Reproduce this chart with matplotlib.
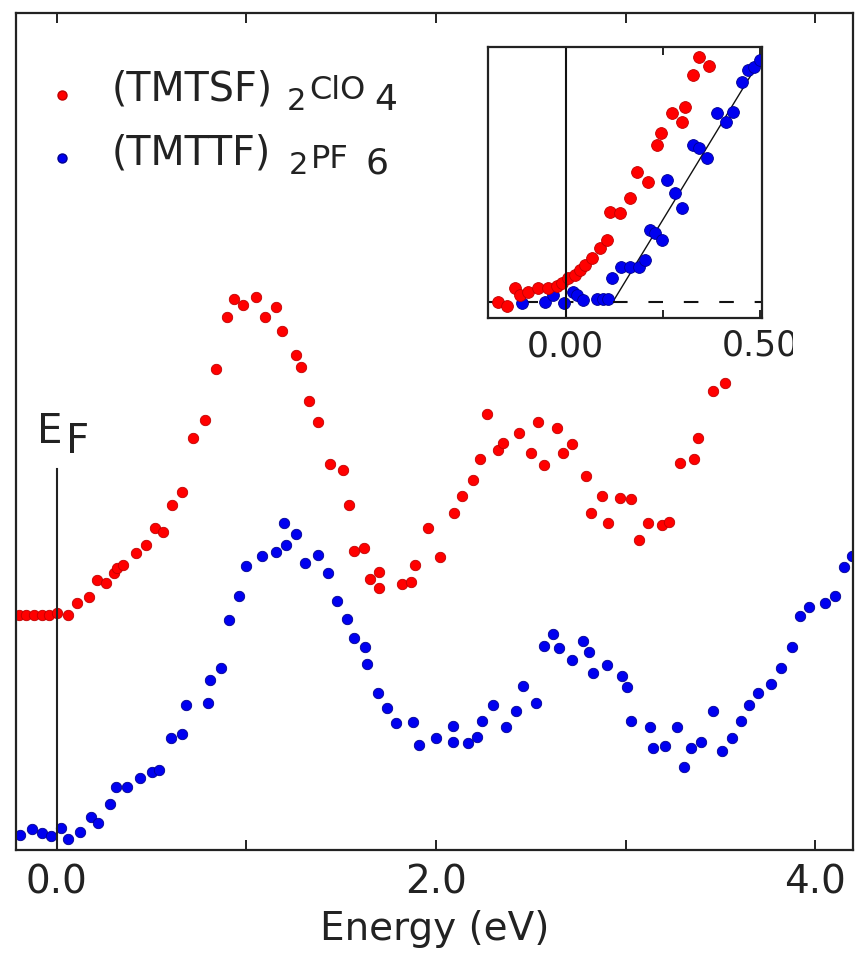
import numpy as np
import matplotlib
matplotlib.use('Agg')
import matplotlib.pyplot as plt
from matplotlib.lines import Line2D
from matplotlib.transforms import Bbox, TransformedBbox

# photoemission spectra, energy in eV, intensity in arbitrary units
tmtsf_e = [-0.20, -0.16, -0.12, -0.08, -0.04, 0.00, 0.06, 0.105, 0.17, 0.21, 0.26, 0.30,
           0.32, 0.35, 0.42, 0.47, 0.52, 0.56, 0.61, 0.66, 0.72, 0.78, 0.84, 0.90, 0.935,
           0.98, 1.05, 1.10, 1.155, 1.19, 1.26, 1.29, 1.33, 1.38, 1.44, 1.51, 1.54, 1.57,
           1.62, 1.65, 1.70, 1.70, 1.82, 1.87, 1.89, 1.96, 2.02, 2.095, 2.14, 2.195, 2.23,
           2.27, 2.33, 2.355, 2.44, 2.50, 2.54, 2.57, 2.64, 2.67, 2.72, 2.79, 2.82, 2.875,
           2.91, 2.97, 3.03, 3.07, 3.12, 3.19, 3.23, 3.29, 3.36, 3.38, 3.46, 3.525]
tmtsf_i = [235, 235, 235, 235, 235, 237, 235, 247, 253, 270, 267, 277,
           282, 285, 297, 305, 322, 318, 345, 358, 412, 430, 481, 533, 551,
           545, 553, 533, 543, 519, 495, 483, 449, 428, 386, 380, 345, 299,
           302, 271, 278, 262, 266, 268, 285, 322, 293, 337, 354, 370, 391,
           436, 400, 407, 417, 397, 428, 385, 422, 397, 406, 374, 337, 354,
           327, 352, 351, 310, 327, 325, 328, 387, 391, 412, 459, 467]

tmttf_e = [-0.195, -0.13, -0.08, -0.03, 0.02, 0.06, 0.12, 0.18, 0.22, 0.28, 0.31, 0.37,
           0.44, 0.50, 0.54, 0.60, 0.66, 0.68, 0.80, 0.81, 0.865, 0.91, 0.96, 1.00, 1.08,
           1.155, 1.20, 1.21, 1.26, 1.31, 1.38, 1.43, 1.48, 1.53, 1.57, 1.625, 1.635,
           1.695, 1.74, 1.79, 1.88, 1.91, 2.00, 2.09, 2.09, 2.17, 2.215, 2.245, 2.30,
           2.37, 2.42, 2.46, 2.53, 2.57, 2.62, 2.65, 2.72, 2.775, 2.81, 2.83, 2.90, 2.98,
           3.01, 3.03, 3.13, 3.145, 3.21, 3.27, 3.31, 3.345, 3.40, 3.46, 3.51, 3.56, 3.61,
           3.65, 3.70, 3.77, 3.82, 3.88, 3.92, 3.97, 4.05, 4.105, 4.15, 4.195]
tmttf_i = [15, 21, 17, 14, 22, 11, 18, 33, 27, 46, 63, 63,
           72, 78, 80, 112, 116, 145, 147, 170, 182, 230, 254, 284, 294,
           298, 327, 305, 316, 287, 295, 277, 249, 231, 212, 203, 186,
           157, 142, 127, 128, 105, 112, 124, 108, 107, 113, 129, 145,
           123, 139, 164, 147, 204, 216, 202, 190, 209, 198, 177, 185, 174,
           163, 129, 123, 102, 104, 123, 83, 102, 108, 139, 99, 112, 129,
           145, 157, 166, 182, 203, 234, 243, 247, 254, 283, 294]

# near-EF detail (inset)
ins_tmtsf_e = [-0.175, -0.152, -0.13, -0.118, -0.097, -0.072, -0.046, -0.023, -0.01, 0.005,
               0.023, 0.036, 0.049, 0.067, 0.088, 0.106, 0.113, 0.139, 0.165, 0.183, 0.211,
               0.234, 0.245, 0.273, 0.299, 0.307, 0.327, 0.343, 0.369]
ins_tmtsf_i = [16, 12, 30, 23, 26, 30, 30, 32, 35, 40,
               43, 48, 53, 60, 70, 78, 106, 105, 120, 146, 136,
               173, 185, 205, 196, 211, 243, 261, 252]

ins_tmttf_e = [-0.113, -0.054, -0.034, -0.005, 0.018, 0.028, 0.044, 0.08, 0.095, 0.108,
               0.119, 0.142, 0.165, 0.188, 0.204, 0.216, 0.229, 0.247, 0.26, 0.281, 0.299,
               0.327, 0.343, 0.363, 0.389, 0.412, 0.43, 0.454, 0.469, 0.485, 0.5]
ins_tmttf_i = [15, 16, 23, 15, 26, 23, 18, 19, 19, 19,
               40, 51, 51, 51, 58, 88, 85, 78, 138, 125, 110,
               173, 170, 160, 205, 196, 206, 236, 248, 251, 258]

# linear edge fit: onset and end point
fit_e = [-0.2, 0.121, 0.505]
fit_i = [16, 16, 261]
baseline_i = 16

W, H = 856, 965
fig = plt.figure(figsize=(W / 100, H / 100), dpi=100)
plt.rcParams['font.family'] = 'DejaVu Sans'
tc = '#222222'


def fx(x):
    return x / W


def fy(y):
    return 1 - y / H


ax = fig.add_axes([fx(16), fy(850), (853 - 16) / W, (850 - 13) / H])
ax.plot(tmtsf_e, tmtsf_i, 'o', ms=7.5, mfc='#ff0000', mec='#c00000', mew=0.6)
ax.plot(tmttf_e, tmttf_i, 'o', ms=7.5, mfc='#0000f0', mec='#000090', mew=0.6)
ax.plot([0, 0], [0, 381], color='#222222', lw=1.5)
ax.set_xlim(-0.215, 4.2)
ax.set_ylim(0, 837)
ax.set_xticks([0, 2, 4])
ax.set_xticklabels(['0.0', '2.0', '4.0'])
ax.set_xticks([1, 3], minor=True)
ax.set_yticks([])
ax.tick_params(axis='x', which='both', direction='in', top=True, length=7, width=1.4,
               labelsize=28, pad=10, colors=tc)
ax.set_xlabel('Energy (eV)', fontsize=28, color=tc, labelpad=6)
for s in ax.spines.values():
    s.set_linewidth(1.6)
    s.set_color('#222222')

# Fermi level label
fig.text(fx(37), fy(443), 'E', fontsize=29, color=tc)
fig.text(fx(66), fy(453), 'F', fontsize=29, color=tc)

# legend drawn by hand so the subscripts sit like the original labels
fig.add_artist(Line2D([fx(62)], [fy(95)], marker='o', ms=6.5, mfc='#ff0000', mec='#c00000', ls='none'))
fig.add_artist(Line2D([fx(62)], [fy(158)], marker='o', ms=6.5, mfc='#0000f0', mec='#000090', ls='none'))
fig.text(fx(112), fy(101), '(TMTSF)', fontsize=28.5, color=tc)
fig.text(fx(287), fy(110), '2', fontsize=22, color=tc)
fig.text(fx(309), fy(99), 'ClO', fontsize=23, color=tc)
fig.text(fx(374), fy(110), '4', fontsize=26, color=tc)
fig.text(fx(112), fy(165), '(TMTTF)', fontsize=28.5, color=tc)
fig.text(fx(289), fy(174), '2', fontsize=22, color=tc)
fig.text(fx(311), fy(168), 'PF', fontsize=23, color=tc)
fig.text(fx(366), fy(174), '6', fontsize=26, color=tc)

# inset: region around the Fermi level
ins = fig.add_axes([fx(488), fy(318), (762 - 488) / W, (318 - 47) / H])
ins.plot(fit_e[:2], [baseline_i, baseline_i], color='#111111', lw=1.5, dashes=(7, 10))
ins.plot(fit_e[1:], fit_i[1:], color='#111111', lw=1.0)
ins.plot(ins_tmttf_e, ins_tmttf_i, 'o', ms=8.5, mfc='#0000f0', mec='#000090', mew=0.6)
ins.plot(ins_tmtsf_e, ins_tmtsf_i, 'o', ms=8.5, mfc='#ff0000', mec='#c00000', mew=0.6)
ins.plot([0.121, 0.505], [baseline_i, baseline_i], color='#111111', lw=1.5, dashes=(7, 10))
ins.axvline(0, color='#111111', lw=1.5)
ins.set_xlim(-0.2, 0.505)
ins.set_ylim(0, 271)
ins.set_xticks([0, 0.5])
ins.set_xticklabels(['0.00', ''])
ins.set_xticks([0.25], minor=True)
ins.set_yticks([])
ins.tick_params(axis='x', which='both', direction='in', top=True, length=6, width=1.4,
                labelsize=25, pad=8, colors=tc)
for s in ins.spines.values():
    s.set_linewidth(1.6)
    s.set_color('#222222')

# right tick label of the inset is cut off by the frame
lbl = fig.text(fx(760), fy(355), '0.50', fontsize=25, color=tc, ha='center')
lbl.set_clip_box(TransformedBbox(Bbox([[0, 0], [fx(793), 1]]), fig.transFigure))
lbl.set_clip_on(True)

fig.savefig('out.png', dpi=100)
